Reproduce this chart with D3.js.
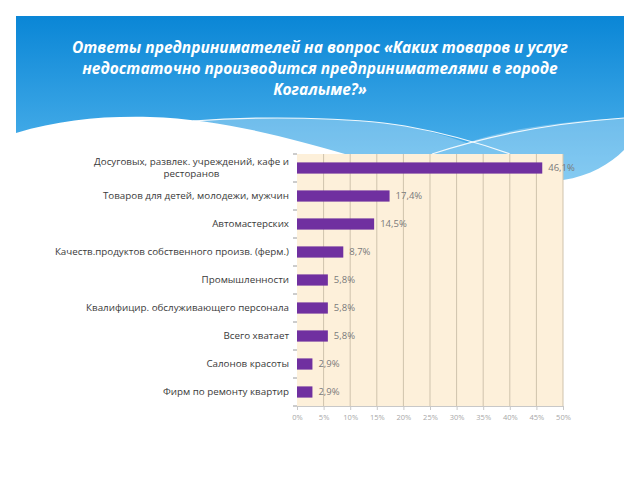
<!DOCTYPE html>
<html><head><meta charset="utf-8">
<script src="https://cdn.jsdelivr.net/npm/d3@7/dist/d3.min.js"></script>
<style>html,body{margin:0;padding:0;background:#fff;}svg{display:block;}</style>
</head><body>
<svg id="chart" width="640" height="480"></svg>
<script>
const titleLines = [
  "Ответы предпринимателей на вопрос «Каких товаров и услуг",
  "недостаточно производится предпринимателями в городе",
  "Когалыме?»"
];
const categories = [
  "Досуговых, развлек. учреждений, кафе и\nресторанов",
  "Товаров для детей, молодежи, мужчин",
  "Автомастерских",
  "Качеств.продуктов собственного произв. (ферм.)",
  "Промышленности",
  "Квалифицир. обслуживающего персонала",
  "Всего хватает",
  "Салонов красоты",
  "Фирм по ремонту квартир"
];
const values = [46.1, 17.4, 14.5, 8.7, 5.8, 5.8, 5.8, 2.9, 2.9];
const xTicks = [0, 5, 10, 15, 20, 25, 30, 35, 40, 45, 50];

const svg = d3.select("#chart");
const ru = d3.formatLocale({decimal: ",", thousands: " ", grouping: [3], currency: ["", ""]});
const fmt1 = ru.format(".1f");

// ---- header ----
const defs = svg.append("defs");
const g1 = defs.append("linearGradient").attr("id", "hdr").attr("x1", 0).attr("y1", 0).attr("x2", 0).attr("y2", 1);
g1.append("stop").attr("offset", "0%").attr("stop-color", "#0a86d6");
g1.append("stop").attr("offset", "100%").attr("stop-color", "#58b8ee");
svg.append("rect").attr("x", 16).attr("y", 16).attr("width", 608).attr("height", 170).attr("fill", "url(#hdr)");
// lighter band below the crossing lines
svg.append("path")
  .attr("d", "M193,121 C260,116 350,117 405,126 C430,131 450,137 467,143 C500,131 550,122 624,118 L624,190 L150,190 Z")
  .attr("fill", "#ffffff").attr("opacity", 0.28);
// white wave
svg.append("path")
  .attr("d", "M16,133 C60,120 100,116 150,117 C220,119 290,138 345,154 L560,154 L563,180 C590,176 610,164 624,150 L624,200 L16,200 Z")
  .attr("fill", "#ffffff");
// thin white lines
svg.append("path")
  .attr("d", "M193,121 C260,116 350,117 405,126 C450,134 485,145 510,154")
  .attr("fill", "none").attr("stroke", "#ffffff").attr("stroke-width", 1.2).attr("opacity", 0.9);
svg.append("path")
  .attr("d", "M432,154 C480,138 540,124 624,118")
  .attr("fill", "none").attr("stroke", "#ffffff").attr("stroke-width", 1.2).attr("opacity", 0.9);

svg.append("g").selectAll("text").data(titleLines).join("text")
  .attr("x", 320).attr("y", (d, i) => 53 + i * 21)
  .attr("text-anchor", "middle")
  .attr("font-family", "'Open Sans', sans-serif")
  .attr("font-weight", "bold").attr("font-style", "italic")
  .attr("font-size", 15.5).attr("fill", "#ffffff")
  .text(d => d);

// ---- chart ----
const pLeft = 297, pRight = 563, pTop = 154, pBottom = 406;
const x = d3.scaleLinear().domain([0, 50]).range([pLeft, pRight]);
const y = d3.scaleBand().domain(categories).range([pTop, pBottom]).paddingInner(0.6).paddingOuter(0.3);

svg.append("rect").attr("x", pLeft).attr("y", pTop).attr("width", pRight - pLeft).attr("height", pBottom - pTop)
  .attr("fill", "#fdf0da");

svg.append("g").selectAll("line").data(xTicks.filter(t => t > 0)).join("line")
  .attr("x1", d => x(d)).attr("x2", d => x(d))
  .attr("y1", pTop).attr("y2", pBottom)
  .attr("stroke", "#cfc3ad").attr("stroke-width", 1);

// left ticks at band boundaries
const bounds = d3.range(categories.length + 1).map(i => pTop + i * (pBottom - pTop) / categories.length);
svg.append("g").selectAll("line").data(bounds).join("line")
  .attr("x1", pLeft - 4).attr("x2", pLeft).attr("y1", d => d).attr("y2", d => d)
  .attr("stroke", "#9a9a9a").attr("stroke-width", 1);

// x axis
const xAxis = svg.append("g").attr("transform", `translate(0,${pBottom})`)
  .call(d3.axisBottom(x).tickValues(xTicks).tickSize(4).tickFormat(d => d + "%"));
xAxis.select(".domain").attr("stroke", "#c8c8c8");
xAxis.selectAll(".tick line").attr("stroke", "#c8c8c8");
xAxis.selectAll(".tick text")
  .attr("font-family", "'Open Sans', sans-serif").attr("font-size", 7.5).attr("fill", "#a8a8a8").attr("dy", "0.9em");

// bars
svg.append("g").selectAll("rect").data(values).join("rect")
  .attr("x", x(0)).attr("y", (d, i) => y(categories[i]))
  .attr("width", d => x(d) - x(0)).attr("height", y.bandwidth())
  .attr("fill", "#7030a0");

// value labels
svg.append("g").selectAll("text").data(values).join("text")
  .attr("x", d => x(d) + 6).attr("y", (d, i) => y(categories[i]) + y.bandwidth() / 2)
  .attr("dy", "0.35em")
  .attr("font-family", "'Open Sans', sans-serif").attr("font-size", 9.5).attr("fill", "#7a7a7a")
  .text(d => fmt1(d) + "%");

// category labels
const labelRight = 289;
const catG = svg.append("g");
categories.forEach((c, i) => {
  const lines = c.split("\n");
  const cy = y(c) + y.bandwidth() / 2;
  const lh = 12;
  const t = catG.append("text")
    .attr("font-family", "'Open Sans', sans-serif").attr("font-size", 9.8).attr("fill", "#3a3a3a");
  const spans = lines.map((ln, j) => t.append("tspan")
    .attr("y", cy + (j - (lines.length - 1) / 2) * lh).attr("dy", "0.35em").text(ln));
  if (lines.length === 1) {
    t.attr("text-anchor", "end");
    spans[0].attr("x", labelRight);
  } else {
    const w = d3.max(spans, s => s.node().getComputedTextLength());
    t.attr("text-anchor", "middle");
    spans.forEach(s => s.attr("x", labelRight - w / 2));
  }
});
</script>
</body></html>
